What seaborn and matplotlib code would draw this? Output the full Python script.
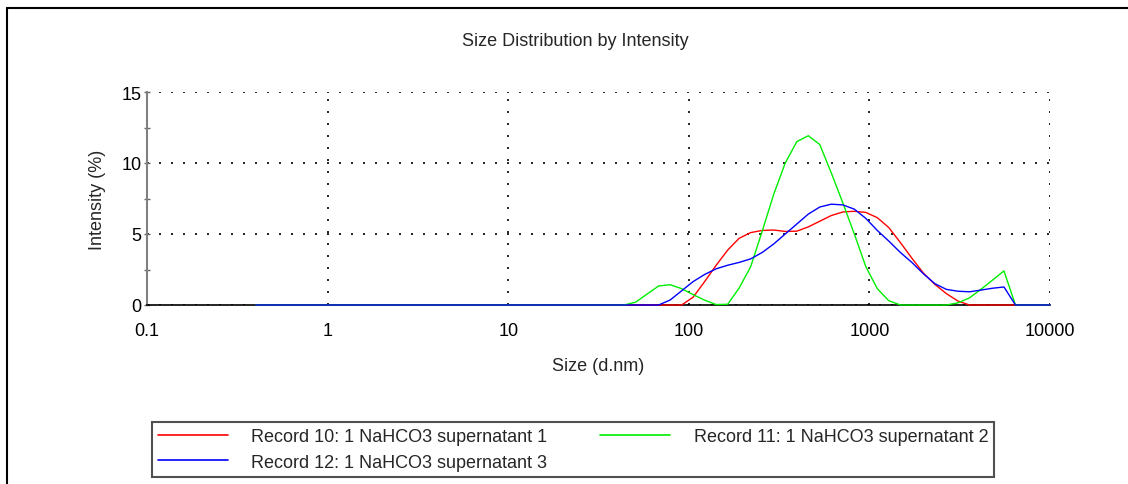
import numpy as np
import pandas as pd
import matplotlib
matplotlib.use("Agg")
import matplotlib.pyplot as plt
from matplotlib.lines import Line2D
from matplotlib.ticker import LogLocator, FixedLocator, FixedFormatter, NullFormatter
import seaborn as sns

# Size classes (d.nm)
sizes = [0.4, 0.4632, 0.5365, 0.6213, 0.7195, 0.8332, 0.9649, 1.117, 1.294, 1.499,
         1.736, 2.010, 2.328, 2.696, 3.122, 3.615, 4.187, 4.849, 5.615, 6.503,
         7.531, 8.721, 10.10, 11.70, 13.54, 15.69, 18.17, 21.04, 24.36, 28.21,
         32.67, 37.84, 43.82, 50.75, 58.77, 68.06, 78.82, 91.28, 105.7, 122.4,
         141.8, 164.2, 190.1, 220.2, 255.0, 295.3, 342.0, 396.1, 458.7, 531.2,
         615.1, 712.4, 825.0, 955.4, 1106, 1281, 1484, 1718, 1990, 2305,
         2669, 3091, 3580, 4145, 4801, 5560, 6439, 7456, 8635, 10000]

# Intensity (%) per size class
record10 = [0] * 38 + [0.55, 1.65, 2.8, 3.87, 4.7, 5.1, 5.25, 5.28, 5.18, 5.2,
                       5.5, 5.9, 6.3, 6.55, 6.6, 6.52, 6.15, 5.45, 4.4, 3.3,
                       2.25, 1.45, 0.8, 0.28] + [0] * 8
record11 = [0] * 32 + [0.0, 0.2, 0.77, 1.34, 1.43, 1.15, 0.73, 0.34, 0.03, 0.05,
                       1.2, 2.7, 5.2, 7.8, 10.0, 11.5, 11.92, 11.3, 9.3, 7.2,
                       5.0, 2.7, 1.15, 0.3, 0, 0, 0, 0, 0, 0.15,
                       0.5, 1.1, 1.75, 2.4] + [0] * 4
record12 = [0] * 36 + [0.35, 1.0, 1.65, 2.15, 2.55, 2.8, 3.0, 3.25, 3.7, 4.3,
                       5.0, 5.7, 6.4, 6.9, 7.1, 7.05, 6.75, 6.1, 5.25, 4.5,
                       3.7, 3.0, 2.2, 1.5, 1.1, 0.97, 0.93, 1.05, 1.18, 1.27] + [0] * 4

labels = ["Record 10: 1 NaHCO3 supernatant 1",
          "Record 11: 1 NaHCO3 supernatant 2",
          "Record 12: 1 NaHCO3 supernatant 3"]
colors = ["#ff0000", "#00ee00", "#0000ff"]

x_ticks = [0.1, 1, 10, 100, 1000, 10000]
x_ticklabels = ["0.1", "1", "10", "100", "1000", "10000"]
y_ticks = [0, 5, 10, 15]
y_minor = [2.5, 7.5, 12.5]

df = pd.concat([
    pd.DataFrame({"size": sizes, "intensity": vals, "record": lab})
    for vals, lab in zip([record10, record11, record12], labels)
], ignore_index=True)

sns.set_theme(style="white")
plt.rcParams["font.family"] = ["Liberation Sans", "DejaVu Sans"]

W, H = 1128, 485
fig = plt.figure(figsize=(W / 100, H / 100), dpi=100)
ax = fig.add_axes([147 / W, 1 - 306 / H, 903 / W, 213 / H])

sns.lineplot(data=df, x="size", y="intensity", hue="record", hue_order=labels,
             palette=dict(zip(labels, colors)), estimator=None, sort=False,
             linewidth=1.0, legend=False, ax=ax)
for ln in ax.lines:
    ln.set_clip_on(False)
    ln.set_zorder(4)

ax.set_xscale("log")
ax.set_xlim(0.1, 10000)
ax.set_ylim(0, 15)

ax.xaxis.set_major_locator(FixedLocator(x_ticks))
ax.xaxis.set_major_formatter(FixedFormatter(x_ticklabels))
ax.xaxis.set_minor_locator(LogLocator(base=10, subs=np.arange(2, 10), numticks=20))
ax.xaxis.set_minor_formatter(NullFormatter())
ax.set_yticks(y_ticks)
ax.set_yticks(y_minor, minor=True)

ax.tick_params(axis="x", which="both", direction="inout", length=6, width=1,
               color="#555555", labelsize=13, pad=9, labelcolor="black")
ax.tick_params(axis="y", which="both", direction="inout", length=5, width=1,
               color="#666666", labelsize=13, pad=1.5, left=True, labelcolor="black")

for side in ("top", "right"):
    ax.spines[side].set_visible(False)
ax.spines["left"].set_color("#808080")
ax.spines["left"].set_linewidth(1.5)
ax.spines["bottom"].set_color("black")
ax.spines["bottom"].set_linewidth(1.2)

ax.grid(True, which="major", color="black", linestyle=(0, (1.2, 6)), linewidth=1.2)
ax.set_axisbelow(True)

ax.set_xlabel("Size (d.nm)", fontsize=13, va="center")
ax.set_ylabel("Intensity (%)", fontsize=13, va="center")
ax.xaxis.set_label_coords(0.5, (306 - 366.5) / 213)
ax.yaxis.set_label_coords((97 - 147) / 903, 0.5)

fig.text(575 / W, 1 - 41 / H, "Size Distribution by Intensity",
         ha="center", va="center", fontsize=13)

# Page frame lines
fig.add_artist(Line2D([7 / W, 7 / W], [0, 1 - 9 / H], transform=fig.transFigure,
                      color="black", linewidth=1.5))
fig.add_artist(Line2D([7 / W, 1], [1 - 9 / H, 1 - 9 / H], transform=fig.transFigure,
                      color="black", linewidth=1.5))

handles = [Line2D([], [], color=c, linewidth=1.2) for c in colors]
order = [0, 2, 1]
leg = fig.legend([handles[i] for i in order], [labels[i] for i in order],
                 loc="upper left", bbox_to_anchor=(152 / W, 1 - 423 / H),
                 bbox_transform=fig.transFigure, ncol=2, fontsize=13,
                 handlelength=3.9, handletextpad=1.28, columnspacing=2.9,
                 borderpad=0.33, labelspacing=0.48, borderaxespad=0,
                 frameon=True, fancybox=False, framealpha=1)
leg.get_frame().set_edgecolor("#505050")
leg.get_frame().set_linewidth(1.5)

fig.savefig("out.png", dpi=100)
